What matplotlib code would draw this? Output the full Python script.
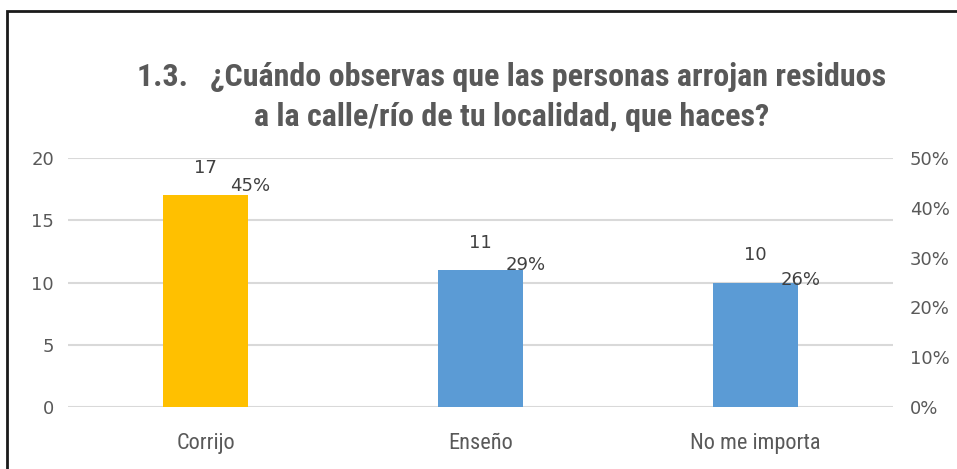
import matplotlib.pyplot as plt
from matplotlib.patches import Rectangle

categorias = ['Corrijo', 'Enseño', 'No me importa']
cantidades = [17, 11, 10]
porcentajes = [0.45, 0.29, 0.26]
colores = ['#FFC000', '#5B9BD5', '#5B9BD5']
titulo = '1.3.   ¿Cuándo observas que las personas arrojan residuos\na la calle/río de tu localidad, que haces?'

narrow = ['Roboto Condensed', 'Liberation Sans Narrow', 'DejaVu Sans']
gris = '#595959'

W, H = 957, 469
fig = plt.figure(figsize=(W / 100, H / 100), dpi=100)

# marco del grafico (solo se ven borde izquierdo y superior)
fig.patches.append(Rectangle((7 / W, -0.05), 1.1, 1 - 11 / H + 0.05, transform=fig.transFigure,
                             fill=False, edgecolor='#1a1a1a', linewidth=2))

ax = fig.add_axes([68 / W, 1 - 407 / H, (893 - 68) / W, (407 - 158) / H])
x = range(len(categorias))
ax.bar(x, cantidades, width=0.31, color=colores, zorder=3)
ax.set_xlim(-0.5, 2.5)
ax.set_ylim(0, 20)
ax.set_yticks([0, 5, 10, 15, 20])
ax.grid(axis='y', color='#D9D9D9', linewidth=1.5, zorder=0)
for s in ax.spines.values():
    s.set_visible(False)
ax.tick_params(length=0)
ax.tick_params(axis='y', labelsize=13, labelcolor=gris, pad=10)
ax.set_xticks(list(x))
ax.set_xticklabels(categorias, family=narrow, fontstretch='condensed', fontsize=16, color=gris)
ax.tick_params(axis='x', pad=19)

for i, v in enumerate(cantidades):
    ax.annotate(str(v), (i, v), xytext=(0, 13), textcoords='offset points',
                ha='center', va='bottom', fontsize=13, color='#404040')

ax2 = ax.twinx()
ax2.set_ylim(0, 0.5)
ax2.set_yticks([0, 0.1, 0.2, 0.3, 0.4, 0.5])
ax2.set_yticklabels(['0%', '10%', '20%', '30%', '40%', '50%'])
for s in ax2.spines.values():
    s.set_visible(False)
ax2.tick_params(length=0, labelsize=13, labelcolor=gris, pad=12)
for i, p in enumerate(porcentajes):
    ax2.annotate(f'{p:.0%}', (i, p), xytext=(18, -2), textcoords='offset points',
                 ha='left', va='center', fontsize=13, color='#404040')

fig.text(512 / W, 1 - 97 / H, titulo, ha='center', va='center', family=narrow,
         fontstretch='condensed', fontsize=23, fontweight='bold', color=gris, linespacing=1.38)

fig.savefig('out.png', dpi=100)
